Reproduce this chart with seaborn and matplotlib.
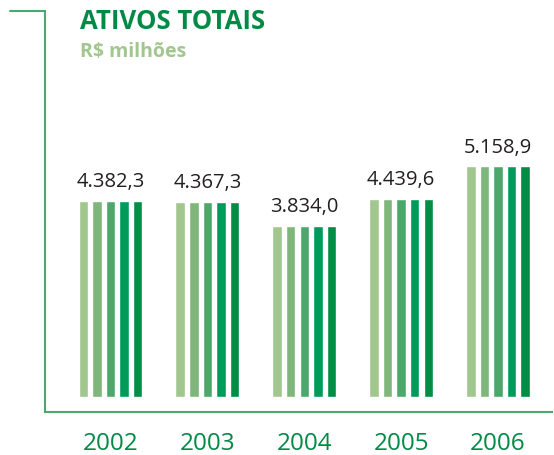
import pandas as pd
import matplotlib
matplotlib.use("Agg")
import matplotlib.pyplot as plt
from matplotlib.lines import Line2D
import seaborn as sns

# === dados ===
anos = ['2002', '2003', '2004', '2005', '2006']
ativos = [4382.3, 4367.3, 3834.0, 4439.6, 5158.9]
faixas = ['f1', 'f2', 'f3', 'f4', 'f5']
cores = ['#a2c68f', '#7fb67b', '#4ea76a', '#009b5b', '#008d45']

verde_escuro = '#008a45'
verde_linha = '#4aa870'


def br(v):
    s = f'{v:,.1f}'
    return s.replace(',', 'X').replace('.', ',').replace('X', '.')


rows = []
for ano, v in zip(anos, ativos):
    for fx in faixas:
        rows.append({'ano': ano, 'faixa': fx, 'valor': v})
df = pd.DataFrame(rows)

sns.set_style('white')
plt.rcParams['font.family'] = ['Open Sans', 'DejaVu Sans']

W, H = 554, 456
fig = plt.figure(figsize=(W / 100, H / 100), dpi=100)
# eixo em pixels: x 45..552, y 12..413
ax = fig.add_axes([45 / W, (H - 413) / H, (552 - 45) / W, (413 - 12) / H])

sns.barplot(data=df, x='ano', y='valor', hue='faixa', palette=cores,
            width=0.70, gap=0.30, saturation=1, legend=False, ax=ax)

# escala: ~22.4 unidades por pixel, barras partem de 397.7 px
k = 22.4
ax.set_ylim(-(413 - 397.7) * k, (397.7 - 12) * k)
ax.set_xlim(-(110.5 - 45) / 96.9, 4 + (552 - 498) / 96.9)

for i, v in enumerate(ativos):
    ax.annotate(br(v), (i, v), xytext=(0, 7), textcoords='offset points',
                ha='center', va='bottom', fontsize=14.5, color='#231f20')

ax.set_xlabel('')
ax.set_ylabel('')
ax.set_yticks([])
ax.tick_params(axis='x', length=0, pad=14, labelsize=17.5, labelcolor=verde_escuro)
for s in ['top', 'right']:
    ax.spines[s].set_visible(False)
for s in ['left', 'bottom']:
    ax.spines[s].set_color(verde_linha)
    ax.spines[s].set_linewidth(1.5)

# linha curta no topo
fig.add_artist(Line2D([10 / W, 45 / W], [(H - 12) / H, (H - 12) / H],
                      color=verde_linha, lw=1.5, transform=fig.transFigure))

fig.text(80 / W, (H - 29) / H, 'ATIVOS TOTAIS', fontsize=18.5, fontweight='bold',
         color=verde_escuro, ha='left', va='baseline')
fig.text(80 / W, (H - 57) / H, 'R$ milhões', fontsize=14, fontweight='bold',
         color='#a2c68f', ha='left', va='baseline')

fig.savefig('out.png', dpi=100)
